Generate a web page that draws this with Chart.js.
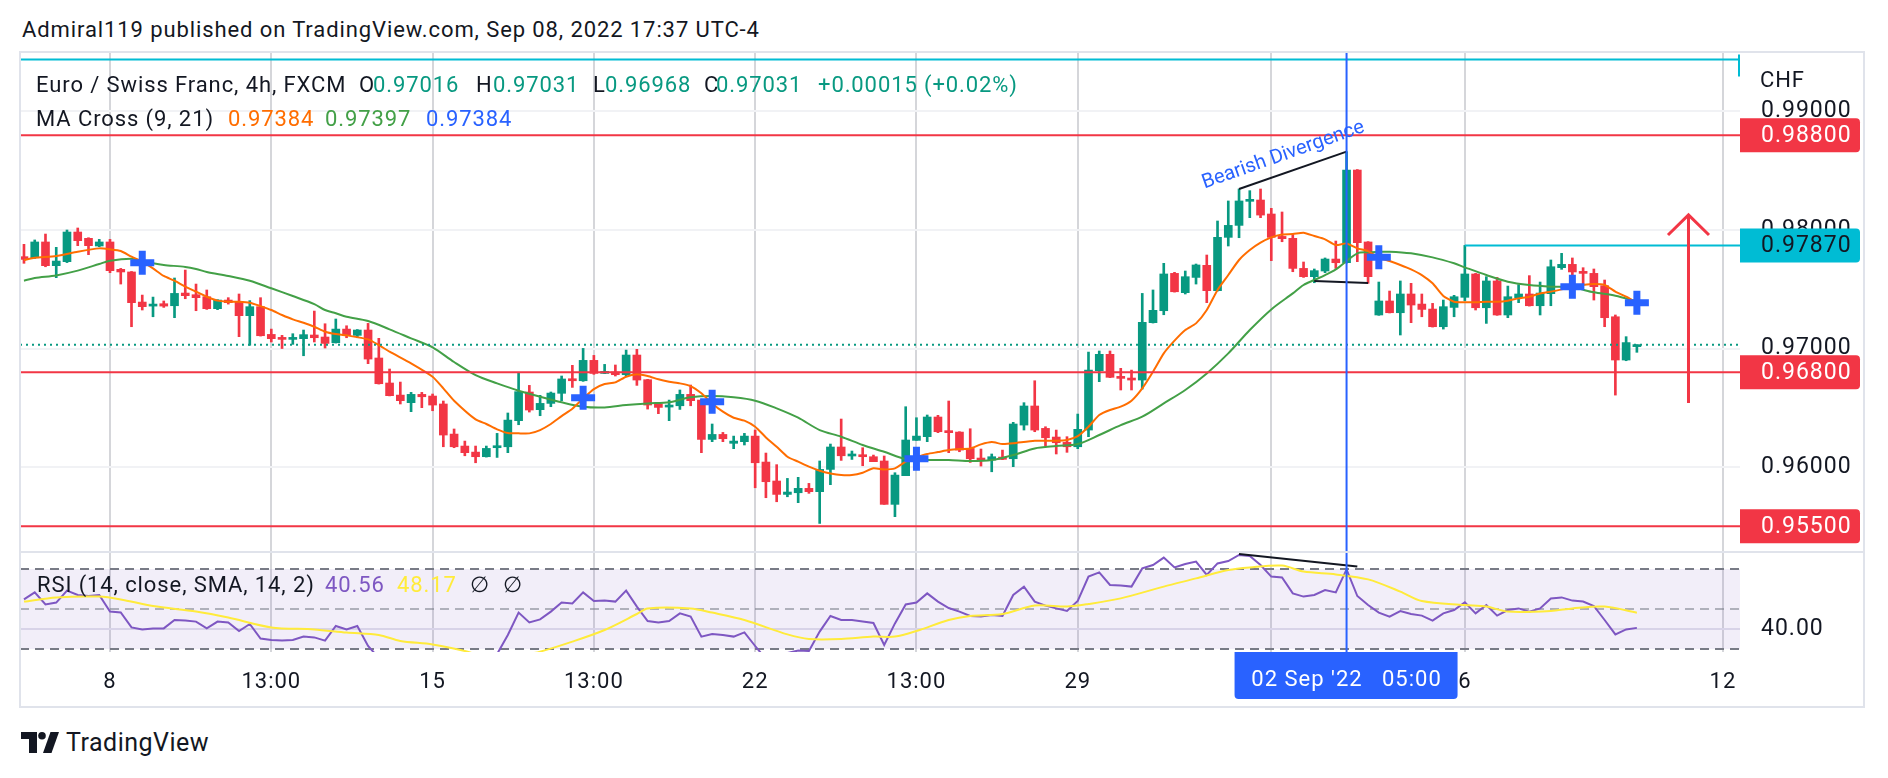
<!DOCTYPE html>
<html>
<head>
<meta charset="utf-8">
<title>EURCHF 4h</title>
<script src="https://cdn.jsdelivr.net/npm/chart.js@4.4.1/dist/chart.umd.min.js"></script>
<style>
  html, body { margin: 0; padding: 0; background: #fff; }
  body { position: relative; width: 1888px; height: 778px; overflow: hidden; font-family: Roboto, sans-serif; color: #131722; }
  .txt { position: absolute; white-space: pre; font-size: 22px; line-height: 26px; letter-spacing: 0.9px; }
  canvas { position: absolute; left: 20px; }
  #main { top: 52px; }
  #rsi { top: 552px; }
  .ln { position: absolute; background: #e0e3eb; pointer-events: none; }
  .teal { color: #089981; }
</style>
</head>
<body>
<canvas id="main" width="1844" height="500"></canvas>
<canvas id="rsi" width="1844" height="155"></canvas>

<div class="ln" style="left:20px;top:51px;width:1845px;height:2px;"></div>
<div class="ln" style="left:19px;top:51px;width:2px;height:657px;"></div>
<div class="ln" style="left:1863px;top:51px;width:2px;height:657px;"></div>
<div class="ln" style="left:20px;top:706px;width:1845px;height:2px;"></div>
<div class="ln" style="left:20px;top:551px;width:1845px;height:2px;"></div>

<div class="txt" style="left:22px;top:17px;">Admiral119 published on TradingView.com, Sep 08, 2022 17:37 UTC-4</div>

<div class="txt" style="left:36px;top:72px;">Euro / Swiss Franc, 4h, FXCM</div>
<div class="txt" style="left:359px;top:72px;">O</div>
<div class="txt teal" style="left:373px;top:72px;">0.97016</div>
<div class="txt" style="left:476px;top:72px;">H</div>
<div class="txt teal" style="left:493px;top:72px;">0.97031</div>
<div class="txt" style="left:593px;top:72px;">L</div>
<div class="txt teal" style="left:605px;top:72px;">0.96968</div>
<div class="txt" style="left:704px;top:72px;">C</div>
<div class="txt teal" style="left:716px;top:72px;">0.97031</div>
<div class="txt teal" style="left:818px;top:72px;">+0.00015 (+0.02%)</div>

<div class="txt" style="left:36px;top:106px;">MA Cross (9, 21)</div>
<div class="txt" style="left:228px;top:106px;color:#FF6D00;">0.97384</div>
<div class="txt" style="left:325px;top:106px;color:#43A047;">0.97397</div>
<div class="txt" style="left:426px;top:106px;color:#2962FF;">0.97384</div>

<div class="txt" style="left:1760px;top:67px;">CHF</div>

<div class="txt" style="left:37px;top:572px;">RSI (14, close, SMA, 14, 2)</div>
<div class="txt" style="left:325px;top:572px;color:#7E57C2;">40.56</div>
<div class="txt" style="left:397px;top:572px;color:#FFEB3B;">48.17</div>
<div class="txt" style="left:470px;top:572px;">∅</div>
<div class="txt" style="left:503px;top:572px;">∅</div>

<svg style="position:absolute;left:21px;top:732px;" width="38" height="21" viewBox="0 0 38 21">
  <path d="M0 0 H16 V21 H8 V7 H0 Z" fill="#131722"/>
  <circle cx="21" cy="3.8" r="3.8" fill="#131722"/>
  <path d="M22 21 L29.5 0 H38 L30.5 21 Z" fill="#131722"/>
</svg>
<div class="txt" style="left:66px;top:729px;font-size:25px;line-height:28px;letter-spacing:0.5px;">TradingView</div>

<script>
Chart.defaults.font.family = 'Roboto';
Chart.defaults.font.size = 22;
Chart.defaults.color = '#131722';
Chart.defaults.animation = false;

const UP = '#089981';
const DOWN = '#F23645';

// bars are counted in 4h steps, bar 0 = Mon 8 Aug
const FIRST_BAR = -8;

const open = [
  0.97775, 0.97766, 0.97899, 0.97699, 0.97733, 0.97983, 0.97930, 0.97865,
  0.97899, 0.97668, 0.97646, 0.97392, 0.97358, 0.97378, 0.97361, 0.97468, 0.97454, 0.97437,
  0.97336, 0.97409, 0.97395, 0.97277, 0.97353, 0.97119, 0.97091, 0.97077, 0.97083, 0.97114,
  0.97097, 0.97049, 0.97164, 0.97111, 0.97156, 0.96920, 0.96709, 0.96607, 0.96543, 0.96613,
  0.96599, 0.96532, 0.96278, 0.96177, 0.96126, 0.96087, 0.96163, 0.96171, 0.96391, 0.96633,
  0.96484, 0.96537, 0.96622, 0.96745, 0.96728, 0.96900, 0.96790, 0.96802, 0.96779, 0.96945,
  0.96737, 0.96532, 0.96506, 0.96517, 0.96613, 0.96565, 0.96233, 0.96275, 0.96200, 0.96214,
  0.96261, 0.96042, 0.95882, 0.95769, 0.95783, 0.95820, 0.95792, 0.95980, 0.96169, 0.96093,
  0.96104, 0.96087, 0.96051, 0.95685, 0.95927, 0.96225, 0.96256, 0.96422, 0.96301, 0.96295,
  0.96157, 0.96073, 0.96059, 0.96084, 0.96070, 0.96354, 0.96515, 0.96326, 0.96253, 0.96208,
  0.96171, 0.96312, 0.96813, 0.96951, 0.96765, 0.96748, 0.96734, 0.97218, 0.97319, 0.97634,
  0.97471, 0.97600, 0.97702, 0.97488, 0.97938, 0.98039, 0.98242, 0.98253, 0.98135, 0.97946,
  0.97930, 0.97676, 0.97606, 0.97654, 0.97755, 0.97724, 0.98506, 0.97899, 0.97283, 0.97401,
  0.97302, 0.97460, 0.97375, 0.97333, 0.97184, 0.97347, 0.97432, 0.97629, 0.97344, 0.97570,
  0.97283, 0.97429, 0.97460, 0.97361, 0.97463, 0.97682, 0.97710, 0.97651, 0.97634, 0.97530,
  0.97268, 0.96903, 0.97016
];
const high = [
  0.97879, 0.97916, 0.97966, 0.97854, 0.98000, 0.98017, 0.97935, 0.97921,
  0.97921, 0.97676, 0.97650, 0.97451, 0.97434, 0.97401, 0.97595, 0.97662, 0.97544, 0.97494,
  0.97412, 0.97429, 0.97460, 0.97404, 0.97429, 0.97164, 0.97111, 0.97125, 0.97156, 0.97316,
  0.97209, 0.97249, 0.97192, 0.97160, 0.97212, 0.97086, 0.96827, 0.96717, 0.96630, 0.96630,
  0.96616, 0.96557, 0.96321, 0.96219, 0.96177, 0.96177, 0.96284, 0.96456, 0.96796, 0.96689,
  0.96605, 0.96633, 0.96768, 0.96858, 0.97001, 0.96942, 0.96866, 0.96861, 0.96987, 0.96993,
  0.96740, 0.96535, 0.96565, 0.96650, 0.96692, 0.96568, 0.96363, 0.96292, 0.96261, 0.96284,
  0.96312, 0.96118, 0.96020, 0.95904, 0.95913, 0.95862, 0.96051, 0.96194, 0.96405, 0.96135,
  0.96163, 0.96101, 0.96093, 0.95952, 0.96509, 0.96416, 0.96439, 0.96436, 0.96557, 0.96298,
  0.96323, 0.96152, 0.96110, 0.96143, 0.96377, 0.96543, 0.96728, 0.96340, 0.96312, 0.96256,
  0.96447, 0.96970, 0.96979, 0.96979, 0.96833, 0.96818, 0.97465, 0.97494, 0.97719, 0.97643,
  0.97654, 0.97713, 0.97789, 0.98076, 0.98245, 0.98346, 0.98332, 0.98346, 0.98183, 0.98152,
  0.97963, 0.97730, 0.97671, 0.97764, 0.97907, 0.98661, 0.98510, 0.97902, 0.97561, 0.97485,
  0.97570, 0.97550, 0.97460, 0.97381, 0.97409, 0.97449, 0.97870, 0.97634, 0.97606, 0.97600,
  0.97527, 0.97539, 0.97615, 0.97561, 0.97747, 0.97803, 0.97764, 0.97682, 0.97671, 0.97578,
  0.97283, 0.97100, 0.97031
];
const low = [
  0.97719, 0.97760, 0.97690, 0.97598, 0.97725, 0.97868, 0.97792, 0.97859,
  0.97640, 0.97544, 0.97184, 0.97325, 0.97268, 0.97347, 0.97260, 0.97420, 0.97319, 0.97330,
  0.97328, 0.97375, 0.97100, 0.97027, 0.97105, 0.97055, 0.97000, 0.97035, 0.96939, 0.97055,
  0.97004, 0.97046, 0.97091, 0.97091, 0.96872, 0.96700, 0.96600, 0.96532, 0.96467, 0.96501,
  0.96475, 0.96171, 0.96163, 0.96095, 0.96036, 0.96084, 0.96081, 0.96121, 0.96357, 0.96464,
  0.96433, 0.96509, 0.96560, 0.96672, 0.96723, 0.96782, 0.96788, 0.96768, 0.96768, 0.96689,
  0.96489, 0.96450, 0.96391, 0.96486, 0.96517, 0.96121, 0.96214, 0.96214, 0.96155, 0.96186,
  0.95825, 0.95741, 0.95707, 0.95749, 0.95699, 0.95778, 0.95524, 0.95851, 0.96056, 0.96064,
  0.96011, 0.96045, 0.95685, 0.95581, 0.95927, 0.96225, 0.96214, 0.96290, 0.96121, 0.96129,
  0.96039, 0.96008, 0.95960, 0.96062, 0.96003, 0.96312, 0.96298, 0.96177, 0.96110, 0.96124,
  0.96155, 0.96256, 0.96720, 0.96754, 0.96650, 0.96650, 0.96658, 0.97215, 0.97285, 0.97476,
  0.97460, 0.97544, 0.97387, 0.97485, 0.97865, 0.97935, 0.98104, 0.98104, 0.97741, 0.97901,
  0.97648, 0.97600, 0.97555, 0.97640, 0.97676, 0.97721, 0.97733, 0.97550, 0.97280, 0.97300,
  0.97114, 0.97218, 0.97268, 0.97181, 0.97164, 0.97268, 0.97404, 0.97325, 0.97212, 0.97280,
  0.97260, 0.97387, 0.97358, 0.97283, 0.97361, 0.97668, 0.97606, 0.97541, 0.97409, 0.97184,
  0.96607, 0.96897, 0.96968
];
const close = [
  0.97752, 0.97899, 0.97699, 0.97738, 0.97983, 0.97910, 0.97868, 0.97899,
  0.97657, 0.97646, 0.97387, 0.97353, 0.97375, 0.97358, 0.97465, 0.97446, 0.97429, 0.97336,
  0.97409, 0.97387, 0.97277, 0.97353, 0.97108, 0.97083, 0.97077, 0.97091, 0.97117, 0.97091,
  0.97043, 0.97164, 0.97111, 0.97156, 0.96911, 0.96703, 0.96602, 0.96560, 0.96613, 0.96593,
  0.96523, 0.96270, 0.96171, 0.96121, 0.96087, 0.96157, 0.96177, 0.96396, 0.96636, 0.96481,
  0.96537, 0.96624, 0.96743, 0.96728, 0.96900, 0.96790, 0.96802, 0.96779, 0.96945, 0.96734,
  0.96523, 0.96503, 0.96523, 0.96613, 0.96560, 0.96233, 0.96275, 0.96239, 0.96219, 0.96261,
  0.96036, 0.95876, 0.95769, 0.95789, 0.95820, 0.95792, 0.95980, 0.96169, 0.96095, 0.96110,
  0.96087, 0.96045, 0.95685, 0.95932, 0.96228, 0.96261, 0.96422, 0.96298, 0.96290, 0.96143,
  0.96070, 0.96059, 0.96087, 0.96065, 0.96363, 0.96515, 0.96312, 0.96247, 0.96205, 0.96171,
  0.96318, 0.96818, 0.96951, 0.96757, 0.96748, 0.96734, 0.97221, 0.97322, 0.97629, 0.97479,
  0.97606, 0.97705, 0.97488, 0.97938, 0.98039, 0.98245, 0.98253, 0.98126, 0.97938, 0.97927,
  0.97676, 0.97606, 0.97657, 0.97755, 0.97724, 0.98506, 0.97893, 0.97606, 0.97401, 0.97302,
  0.97460, 0.97367, 0.97330, 0.97184, 0.97353, 0.97437, 0.97629, 0.97344, 0.97570, 0.97283,
  0.97437, 0.97460, 0.97361, 0.97468, 0.97690, 0.97710, 0.97646, 0.97634, 0.97522, 0.97260,
  0.96903, 0.97050, 0.97031
];

// MA Cross (9, 21)
const ma9Bar = [-8, -7, -5, -3, -1, 0, 1, 2, 3, 4, 5, 6, 7, 8, 9, 10, 11, 12, 13, 14, 15, 16, 17, 18, 19, 20,
  21, 22, 24, 25, 26, 28, 30, 31, 32, 34, 35, 36, 37, 38, 39, 40, 41, 42, 43, 44, 45, 46, 47, 48, 49, 50,
  51, 52, 53, 54, 55, 56, 57, 58, 59, 60, 61, 62, 63, 64, 65, 66, 67, 68, 69, 70, 71, 72, 73, 74, 75, 76,
  77, 78, 79, 80, 81, 82, 83, 84, 86, 88, 89, 90, 91, 92, 93, 94, 95, 96, 97, 98, 99, 100, 101, 102, 103,
  104, 105, 106, 107, 108, 109, 110, 111, 112, 113, 114, 115, 116, 117, 118, 119, 120, 121, 122, 123, 124,
  125, 126, 127, 128, 129, 130, 131, 132, 133, 134, 135, 136, 137, 138, 139, 140, 141, 142];
const ma9 = [0.97747, 0.97766, 0.97780, 0.97817, 0.97845, 0.97837, 0.97823, 0.97775, 0.97733, 0.97676,
  0.97612, 0.97572, 0.97522, 0.97480, 0.97437, 0.97404, 0.97395, 0.97395, 0.97387, 0.97358, 0.97325,
  0.97283, 0.97246, 0.97218, 0.97184, 0.97142, 0.97122, 0.97111, 0.97077, 0.97029, 0.96973, 0.96875,
  0.96762, 0.96664, 0.96560, 0.96402, 0.96363, 0.96318, 0.96287, 0.96284, 0.96284, 0.96312, 0.96363,
  0.96430, 0.96492, 0.96579, 0.96658, 0.96700, 0.96714, 0.96762, 0.96782, 0.96768, 0.96740, 0.96720,
  0.96706, 0.96683, 0.96622, 0.96537, 0.96467, 0.96416, 0.96391, 0.96340, 0.96250, 0.96171, 0.96087,
  0.96045, 0.96003, 0.95969, 0.95946, 0.95932, 0.95932, 0.95952, 0.95989, 0.95980, 0.95989, 0.96045,
  0.96081, 0.96110, 0.96126, 0.96143, 0.96152, 0.96157, 0.96191, 0.96211, 0.96194, 0.96200, 0.96222,
  0.96222, 0.96228, 0.96261, 0.96340, 0.96439, 0.96481, 0.96509, 0.96560, 0.96664, 0.96804, 0.96959,
  0.97066, 0.97156, 0.97212, 0.97325, 0.97494, 0.97620, 0.97747, 0.97831, 0.97893, 0.97938, 0.97963,
  0.97966, 0.97977, 0.97949, 0.97921, 0.97873, 0.97887, 0.97845, 0.97822, 0.97768, 0.97738, 0.97705,
  0.97668, 0.97620, 0.97550, 0.97443, 0.97395, 0.97390, 0.97390, 0.97395, 0.97395, 0.97404, 0.97423,
  0.97437, 0.97465, 0.97480, 0.97499, 0.97522, 0.97536, 0.97544, 0.97536, 0.97480, 0.97437, 0.97384];

const ma21Bar = [-8, -7, -5, -3, -1, 0, 2, 3, 4, 5, 7, 8, 9, 11, 13, 15, 17, 19, 20, 21, 22, 24, 26, 28,
  30, 32, 34, 36, 38, 40, 42, 44, 46, 48, 50, 52, 54, 56, 58, 60, 62, 64, 66, 68, 70, 72, 74, 76, 78,
  80, 82, 84, 86, 88, 90, 92, 94, 96, 98, 100, 102, 104, 106, 108, 110, 111, 112, 113, 114, 116, 117,
  118, 119, 121, 123, 125, 126, 128, 130, 132, 134, 136, 138, 140, 142];
const ma21 = [0.97572, 0.97595, 0.97617, 0.97657, 0.97713, 0.97741, 0.97758, 0.97738, 0.97719, 0.97705,
  0.97688, 0.97671, 0.97646, 0.97612, 0.97572, 0.97508, 0.97443, 0.97375, 0.97325, 0.97297, 0.97268,
  0.97232, 0.97162, 0.97086, 0.97010, 0.96886, 0.96776, 0.96706, 0.96644, 0.96593, 0.96546, 0.96509,
  0.96503, 0.96523, 0.96537, 0.96546, 0.96588, 0.96599, 0.96588, 0.96560, 0.96495, 0.96416, 0.96312,
  0.96256, 0.96186, 0.96129, 0.96067, 0.96059, 0.96059, 0.96051, 0.96059, 0.96101, 0.96157, 0.96177,
  0.96194, 0.96270, 0.96354, 0.96425, 0.96537, 0.96650, 0.96790, 0.96959, 0.97156, 0.97330, 0.97465,
  0.97536, 0.97578, 0.97620, 0.97668, 0.97803, 0.97812, 0.97815, 0.97817, 0.97803, 0.97769, 0.97719,
  0.97685, 0.97620, 0.97564, 0.97536, 0.97522, 0.97516, 0.97474, 0.97446, 0.97397];

const crossBar = [3, 44, 56, 75, 118, 136, 142];
const crossVal = [0.97724, 0.96585, 0.96551, 0.96070, 0.97770, 0.97522, 0.97386];

// RSI (14) per bar, and its SMA line
const rsi = [
  54.8, 58.3, 52.3, 53.2, 59.2, 57.0, 56.5, 57.0,
  48.7, 48.3, 40.8, 39.8, 40.3, 40.3, 44.5, 44.2, 43.7, 40.3,
  43.7, 43.3, 39.0, 42.5, 35.2, 34.5, 34.3, 34.5, 36.2, 35.8,
  34.2, 41.5, 39.8, 41.5, 31.5, 25.5, 23.5, 23.0, 25.0, 24.5,
  23.5, 19.0, 17.5, 17.0, 16.5, 19.5, 27.5, 37.0, 48.2, 43.3,
  44.8, 48.7, 53.2, 52.8, 58.3, 54.0, 54.2, 53.7, 59.2, 51.2,
  44.0, 43.3, 44.0, 47.8, 46.2, 36.2, 37.5, 37.0, 36.2, 38.3,
  31.5, 25.0, 23.5, 28.0, 29.2, 29.0, 38.7, 46.5, 44.5, 44.5,
  43.8, 43.0, 32.0, 42.8, 52.3, 53.2, 57.8, 53.7, 50.5, 48.7,
  46.5, 46.2, 47.0, 46.5, 57.0, 61.2, 53.7, 51.7, 50.3, 49.0,
  54.0, 66.2, 68.3, 62.0, 61.7, 61.2, 70.3, 72.0, 75.7, 70.8,
  72.5, 73.7, 67.0, 72.8, 74.0, 77.0, 76.5, 72.0, 66.2, 65.8,
  57.8, 56.2, 57.0, 59.5, 58.3, 69.8, 56.5, 52.0, 48.2, 46.2,
  49.0, 47.5, 46.7, 44.2, 47.8, 49.5, 53.3, 47.8, 52.0, 46.7,
  49.5, 50.3, 48.7, 50.3, 55.3, 55.8, 54.2, 53.7, 51.5, 44.5,
  37.3, 39.8, 40.56
];
const rsiMaBar = [-8, -5, -1, 1, 4, 8, 11, 15, 19, 22, 25, 27, 30, 33, 36, 38, 40, 43, 46, 49, 50, 54,
  56, 59, 63, 65, 68, 71, 73, 75, 78, 80, 83, 86, 89, 91, 94, 98, 101, 104, 106, 109, 111, 114, 117,
  120, 122, 126, 128, 130, 134, 136, 139, 142];
const rsiMa = [53.7, 55.8, 56.2, 54.8, 51.5, 48.7, 45.7, 40.8, 39.8, 38.2, 37.0, 34.0, 32.3, 29.0, 24.5,
  26.5, 28.7, 33.7, 39.5, 47.5, 50.3, 50.3, 48.2, 44.5, 37.3, 35.0, 35.0, 36.2, 36.2, 39.0, 44.5, 46.5,
  47.5, 51.7, 51.2, 52.5, 55.3, 61.2, 65.3, 69.5, 70.8, 71.7, 68.7, 67.3, 64.8, 58.7, 54.0, 52.0, 51.2,
  48.7, 49.0, 50.3, 51.2, 48.17];

// axes
const X_MIN = -8.37, X_MAX = 151.59;
const P_MIN = 0.95283, P_MAX = 0.99502;
const RSI_MIN = 28.5, RSI_MAX = 78.5;
const timeTicks = [0, 15, 30, 45, 60, 75, 90, 108, 126, 150];
const timeLabels = ['8', '13:00', '15', '13:00', '22', '13:00', '29', '13:00', '6', '12'];
const priceTicks = [0.96, 0.97, 0.98, 0.99];
const rsiTicks = [40];

// drawings
const redLevels = [0.98800, 0.96800, 0.95500];
const cyanLevels = [0.99438, 0.97870];
const cyanFrom = [X_MIN, 126];
const lastPrice = 0.97031;
const divergenceBars = [105, 115];
const divergenceHigh = [0.98346, 0.98661];
const supportBars = [112, 117];
const supportVal = [0.97570, 0.97552];
const rsiDivBars = [105, 116];
const rsiDivVal = [77.5, 71.3];
const arrowBar = 146.8;
const arrowFromTo = [0.96540, 0.98127];
const crosshairBar = 115;
const crosshairLabel = "02 Sep '22   05:00";

const barIdx = open.map((_, k) => FIRST_BAR + k);
const candleColor = close.map((c, k) => (c >= open[k] ? UP : DOWN));
const pairs = (xs, ys) => xs.map((x, k) => ({ x, y: ys[k] }));

// a little wider text, like the TradingView snapshot
Chart.register({
  id: 'spacing',
  beforeDraw(chart) { chart.ctx.letterSpacing = '1px'; }
});

const xScale = (showLabels) => ({
  type: 'linear',
  min: X_MIN,
  max: X_MAX,
  offset: false,
  grid: { offset: false, color: '#d5d6da', lineWidth: 2, drawTicks: false },
  border: { display: false },
  ticks: {
    display: showLabels, autoSkip: false, maxRotation: 0, padding: 17,
    color: '#131722', font: { size: 22 },
    callback: (v, i) => timeLabels[i]
  },
  afterBuildTicks: (s) => { s.ticks = timeTicks.map(v => ({ value: v })); },
  afterFit: (s) => { s.height = showLabels ? 55 : 0; s.paddingLeft = 0; s.paddingRight = 0; }
});

const roundBox = (ctx, x, y, w, h, r) => {
  ctx.beginPath();
  ctx.moveTo(x, y);
  ctx.lineTo(x + w - r, y);
  ctx.arcTo(x + w, y, x + w, y + r, r);
  ctx.lineTo(x + w, y + h - r);
  ctx.arcTo(x + w, y + h, x + w - r, y + h, r);
  ctx.lineTo(x, y + h);
  ctx.closePath();
  ctx.fill();
};

const segment = (ctx, x1, y1, x2, y2, color, width, dash) => {
  ctx.save();
  ctx.strokeStyle = color;
  ctx.lineWidth = width;
  ctx.setLineDash(dash || []);
  ctx.beginPath();
  ctx.moveTo(x1, y1);
  ctx.lineTo(x2, y2);
  ctx.stroke();
  ctx.restore();
};

const mainDrawings = {
  id: 'mainDrawings',
  afterDatasetsDraw(chart) {
    const { ctx, chartArea: a, scales: { x, y } } = chart;
    ctx.save();
    ctx.beginPath();
    ctx.rect(a.left, a.top, a.right - a.left, a.bottom - a.top);
    ctx.clip();

    segment(ctx, a.left, y.getPixelForValue(lastPrice), a.right, y.getPixelForValue(lastPrice), UP, 2, [2, 4]);
    redLevels.forEach(p => segment(ctx, a.left, y.getPixelForValue(p), a.right, y.getPixelForValue(p), DOWN, 2));
    cyanLevels.forEach((p, k) =>
      segment(ctx, x.getPixelForValue(cyanFrom[k]), y.getPixelForValue(p), a.right, y.getPixelForValue(p), '#00BCD4', 2));
    const topY = y.getPixelForValue(cyanLevels[0]);
    segment(ctx, a.right - 1, topY - 5, a.right - 1, topY + 17, '#00BCD4', 2);

    segment(ctx, x.getPixelForValue(divergenceBars[0]), y.getPixelForValue(divergenceHigh[0]),
      x.getPixelForValue(divergenceBars[1]), y.getPixelForValue(divergenceHigh[1]), '#131722', 2);
    segment(ctx, x.getPixelForValue(supportBars[0]), y.getPixelForValue(supportVal[0]),
      x.getPixelForValue(supportBars[1]), y.getPixelForValue(supportVal[1]), '#131722', 2);

    // crosshair
    const cx = x.getPixelForValue(crosshairBar);
    segment(ctx, cx, a.top, cx, a.bottom, '#2962FF', 2);

    // arrow
    const ax = x.getPixelForValue(arrowBar);
    const ay0 = y.getPixelForValue(arrowFromTo[0]);
    const ay1 = y.getPixelForValue(arrowFromTo[1]);
    ctx.save();
    ctx.strokeStyle = DOWN;
    ctx.lineWidth = 3;
    ctx.beginPath();
    ctx.moveTo(ax, ay0);
    ctx.lineTo(ax, ay1);
    ctx.moveTo(ax - 20.5, ay1 + 20);
    ctx.lineTo(ax, ay1);
    ctx.lineTo(ax + 20.5, ay1 + 20);
    ctx.stroke();
    ctx.restore();

    // label
    ctx.save();
    ctx.translate(x.getPixelForValue(101.8), y.getPixelForValue(0.98350));
    ctx.rotate(-19.5 * Math.PI / 180);
    ctx.letterSpacing = '0px';
    ctx.fillStyle = '#2962FF';
    ctx.font = '20px Roboto';
    ctx.textBaseline = 'alphabetic';
    ctx.fillText('Bearish Divergence', 0, 0);
    ctx.restore();

    ctx.restore();
  },
  afterDraw(chart) {
    const { ctx, chartArea: a, scales: { y } } = chart;
    const boxes = redLevels.map(p => ({ p, bg: DOWN, fg: '#ffffff' }))
      .concat([{ p: cyanLevels[1], bg: '#00BCD4', fg: '#131722' }]);
    ctx.save();
    ctx.font = '23px Roboto';
    ctx.textBaseline = 'middle';
    ctx.textAlign = 'left';
    boxes.forEach(b => {
      const py = y.getPixelForValue(b.p);
      ctx.fillStyle = b.bg;
      roundBox(ctx, a.right, py - 17, 120, 34, 4);
      ctx.fillStyle = b.fg;
      ctx.fillText(b.p.toFixed(5), a.right + 21, py + 1);
    });
    ctx.restore();
  }
};

const rsiDrawings = {
  id: 'rsiDrawings',
  beforeDatasetsDraw(chart) {
    const { ctx, chartArea: a, scales: { y } } = chart;
    const y70 = y.getPixelForValue(70), y50 = y.getPixelForValue(50), y30 = y.getPixelForValue(30);
    ctx.save();
    ctx.fillStyle = 'rgba(126, 87, 194, 0.1)';
    ctx.fillRect(a.left, y70, a.right - a.left, y30 - y70);
    ctx.restore();
    segment(ctx, a.left, y70, a.right, y70, '#787B86', 2, [9, 6]);
    segment(ctx, a.left, y30, a.right, y30, '#787B86', 2, [9, 6]);
    segment(ctx, a.left, y50, a.right, y50, 'rgba(120, 123, 134, 0.55)', 2, [9, 6]);
  },
  afterDraw(chart) {
    const { ctx, chartArea: a, scales: { x, y } } = chart;
    ctx.save();
    ctx.beginPath();
    ctx.rect(a.left, a.top, a.right - a.left, a.bottom - a.top);
    ctx.clip();
    segment(ctx, x.getPixelForValue(rsiDivBars[0]), y.getPixelForValue(rsiDivVal[0]),
      x.getPixelForValue(rsiDivBars[1]), y.getPixelForValue(rsiDivVal[1]), '#131722', 2);
    const cx = x.getPixelForValue(crosshairBar);
    segment(ctx, cx, a.top, cx, a.bottom, '#2962FF', 2);
    ctx.restore();

    // time label under the crosshair
    ctx.save();
    ctx.fillStyle = '#2962FF';
    ctx.beginPath();
    ctx.moveTo(cx - 112, a.bottom);
    ctx.lineTo(cx + 111, a.bottom);
    ctx.lineTo(cx + 111, a.bottom + 43);
    ctx.arcTo(cx + 111, a.bottom + 47, cx + 107, a.bottom + 47, 4);
    ctx.lineTo(cx - 108, a.bottom + 47);
    ctx.arcTo(cx - 112, a.bottom + 47, cx - 112, a.bottom + 43, 4);
    ctx.closePath();
    ctx.fill();
    ctx.fillStyle = '#ffffff';
    ctx.font = '22px Roboto';
    ctx.textAlign = 'center';
    ctx.textBaseline = 'middle';
    ctx.fillText(crosshairLabel, cx, a.bottom + 28);
    ctx.restore();
  }
};

new Chart(document.getElementById('main'), {
  type: 'bar',
  data: {
    datasets: [
      {
        label: 'wick', data: barIdx.map((b, k) => ({ x: b, y: [low[k], high[k]] })),
        backgroundColor: candleColor, barThickness: 2, grouped: false, order: 6
      },
      {
        label: 'body', data: barIdx.map((b, k) => ({ x: b, y: [open[k], close[k]] })),
        backgroundColor: candleColor, barThickness: 8, minBarLength: 2, grouped: false, order: 5
      },
      {
        type: 'line', label: 'MA 21', data: pairs(ma21Bar, ma21),
        borderColor: '#43A047', borderWidth: 2, pointRadius: 0, tension: 0.3, order: 4
      },
      {
        type: 'line', label: 'MA 9', data: pairs(ma9Bar, ma9),
        borderColor: '#FF6D00', borderWidth: 2, pointRadius: 0, tension: 0.2, order: 3
      },
      {
        type: 'line', label: 'Cross', data: pairs(crossBar, crossVal), showLine: false,
        pointStyle: 'cross', pointRadius: 12, pointBorderWidth: 7, borderColor: '#2962FF',
        pointBorderColor: '#2962FF', order: 1
      }
    ]
  },
  options: {
    responsive: false,
    devicePixelRatio: 1,
    layout: { padding: 0, autoPadding: false },
    plugins: { legend: { display: false }, tooltip: { enabled: false } },
    scales: {
      x: xScale(false),
      y: {
        type: 'linear', position: 'right', min: P_MIN, max: P_MAX, beginAtZero: false,
        grid: { color: '#f1f2f5', lineWidth: 2, drawTicks: false },
        border: { display: false },
        ticks: { padding: 21, color: '#131722', font: { size: 23 }, callback: v => v.toFixed(5) },
        afterBuildTicks: (s) => { s.ticks = priceTicks.map(v => ({ value: v })); },
        afterFit: (s) => { s.width = 124; s.paddingTop = 0; s.paddingBottom = 0; }
      }
    }
  },
  plugins: [mainDrawings]
});

new Chart(document.getElementById('rsi'), {
  type: 'line',
  data: {
    datasets: [
      {
        label: 'RSI-based MA', data: pairs(rsiMaBar, rsiMa),
        borderColor: '#FFEB3B', borderWidth: 2, pointRadius: 0, tension: 0.3
      },
      {
        label: 'RSI', data: pairs(barIdx, rsi),
        borderColor: '#7E57C2', borderWidth: 2, pointRadius: 0, tension: 0
      }
    ]
  },
  options: {
    responsive: false,
    devicePixelRatio: 1,
    layout: { padding: 0, autoPadding: false },
    plugins: { legend: { display: false }, tooltip: { enabled: false } },
    scales: {
      x: xScale(true),
      y: {
        type: 'linear', position: 'right', min: RSI_MIN, max: RSI_MAX,
        grid: { color: '#e3e1ec', lineWidth: 2, drawTicks: false },
        border: { display: false },
        ticks: { padding: 21, color: '#131722', font: { size: 23 }, callback: v => v.toFixed(2) },
        afterBuildTicks: (s) => { s.ticks = rsiTicks.map(v => ({ value: v })); },
        afterFit: (s) => { s.width = 124; s.paddingTop = 0; s.paddingBottom = 0; }
      }
    }
  },
  plugins: [rsiDrawings]
});
</script>
</body>
</html>
